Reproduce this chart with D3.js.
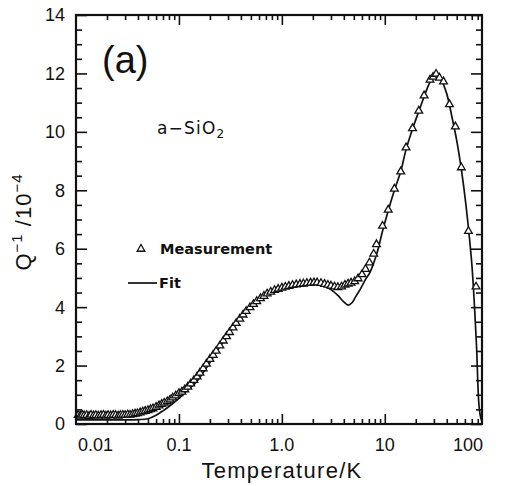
<!DOCTYPE html>
<html><head><meta charset="utf-8">
<script src="https://cdn.jsdelivr.net/npm/d3@7"></script>
<style>body{margin:0;background:#fff} svg{display:block}</style>
</head><body><svg id="c" width="507" height="486"></svg>
<script>
// Measurement (temperature in K, Q^-1 in units of 1e-4)
const measT = [0.0105,0.011,0.0115,0.012,0.0127,0.0134,0.014,0.0148,0.0156,0.0165,0.0175,0.0185,0.0195,0.0205,0.0217,0.023,0.0243,0.0257,0.027,0.0285,0.03,0.0318,0.0335,0.0355,0.0375,0.0395,
  0.042,0.0445,0.047,0.05,0.053,0.056,0.06,0.064,0.068,0.072,0.077,0.082,0.087,0.093,0.1,0.107,0.114,0.122,0.13,0.14,0.15,0.16,0.172,0.185,0.2,0.215,0.23,0.25,0.27,0.29,0.31,0.335,0.36,0.39,0.42,0.45,0.49,0.53,0.57,0.62,0.67,0.72,0.78,0.85,0.92,
  1.0,1.08,1.17,1.27,1.38,1.5,1.62,1.75,1.9,2.05,2.2,2.4,2.6,2.8,3.0,3.25,3.5,3.8,4.1,4.4,4.7,5.1,5.5,6.0,6.5,7.1,7.8,8.3,9.5,10.8,12.4,14.3,16.1,18.6,21.4,24.1,27.5,29.5,31.5,34,37.2,42.5,48.5,55.4,65,77];
const measQ = [0.30,0.28,0.31,0.29,0.30,0.27,0.31,0.29,0.30,0.28,0.30,0.31,0.28,0.30,0.29,0.31,0.30,0.28,0.30,0.31,0.30,0.32,0.31,0.33,0.35,0.36,
  0.39,0.42,0.44,0.47,0.50,0.53,0.58,0.63,0.68,0.72,0.77,0.83,0.90,0.97,1.05,1.10,1.18,1.27,1.38,1.50,1.62,1.75,1.90,2.06,2.22,2.36,2.50,2.68,2.85,3.00,3.14,3.30,3.45,3.60,3.74,3.86,3.99,4.10,4.20,4.30,4.38,4.46,4.52,4.58,4.62,
  4.66,4.69,4.72,4.75,4.77,4.79,4.80,4.82,4.83,4.84,4.84,4.82,4.79,4.76,4.73,4.70,4.68,4.70,4.76,4.80,4.83,4.88,4.98,5.12,5.30,5.52,5.82,6.15,6.78,7.33,8.05,8.64,9.46,10.12,10.72,11.24,11.78,11.88,11.98,11.85,11.72,10.94,10.18,8.78,6.60,4.70];

// Fit curve
const fitT = [0.0101,0.02,0.03,0.04,0.05,0.06,0.07,0.08,0.1,0.12,0.14,0.16,0.2,0.25,0.3,0.35,0.4,0.5,0.6,0.8,1.0,1.5,2.0,2.5,3.0,3.5,4.0,4.4,4.8,5.2,5.75,6.5,7.2,8.4,9.5,10.8,12.4,14.3,16.1,18.6,21.4,24.1,27.5,31.5,35,40,45,50,55,60,65,70,72.5,75,78,82,85,87.5];
const fitQ = [0.14,0.14,0.14,0.15,0.18,0.30,0.45,0.60,0.88,1.15,1.35,1.60,2.10,2.65,3.05,3.40,3.70,4.05,4.30,4.55,4.68,4.80,4.82,4.75,4.60,4.40,4.18,4.07,4.15,4.35,4.60,4.95,5.20,5.85,6.60,7.30,8.00,8.65,9.40,10.10,10.70,11.20,11.70,11.93,11.80,11.30,10.50,9.70,8.80,7.80,6.70,5.50,4.70,3.80,2.60,0.70,0.25,0.10];

const xLabelValues = [0.01,0.1,1,10,100];
const xLabelText = ["0.01","0.1","1.0","10","100"];
const xMajor = [0.1,1,10];
const xMinor = [0.02,0.03,0.04,0.05,0.06,0.07,0.08,0.09,0.2,0.3,0.4,0.5,0.6,0.7,0.8,0.9,2,3,4,5,6,7,8,9,20,30,40,50,60,70,80];
const yMajor = [0,2,4,6,8,10,12,14];
const yMinor = [0.5,1,1.5,2.5,3,3.5,4.5,5,5.5,6.5,7,7.5,8.5,9,9.5,10.5,11,11.5,12.5,13,13.5];

const L = 76, R = 482, T = 15, B = 424;
const x = d3.scaleLog().domain([0.01, 88]).range([L, R]);
const y = d3.scaleLinear().domain([0, 14]).range([B, T]);
const svg = d3.select("#c");
const FONT = "'Liberation Sans', Arial, sans-serif";

// fit line
const fitData = fitT.map((t,i)=>[t, fitQ[i]]);
svg.append("path").datum(fitData)
  .attr("fill","none").attr("stroke","#111").attr("stroke-width",1.7)
  .attr("d", d3.line().x(d=>x(d[0])).y(d=>y(d[1])).curve(d3.curveCatmullRom));

// measurement triangles
const tri = d3.symbol().type(d3.symbolTriangle).size(26);
svg.append("g").selectAll("path").data(measT.map((t,i)=>[t, measQ[i]])).join("path")
  .attr("d", tri).attr("transform", d=>`translate(${x(d[0])},${y(d[1])})`)
  .attr("fill","#fff").attr("stroke","#111").attr("stroke-width",1.3);

// axes with inward ticks
function styleAxis(g){ g.selectAll(".domain").remove(); g.selectAll("line").attr("stroke","#111").attr("stroke-width",1.6); g.selectAll("text").remove(); }
svg.append("g").attr("transform",`translate(0,${B})`).call(d3.axisBottom(x).tickValues(xMajor).tickSize(-10)).call(styleAxis);
svg.append("g").attr("transform",`translate(0,${B})`).call(d3.axisBottom(x).tickValues(xMinor).tickSize(-5)).call(styleAxis);
svg.append("g").attr("transform",`translate(0,${T})`).call(d3.axisTop(x).tickValues(xMajor).tickSize(-10)).call(styleAxis);
svg.append("g").attr("transform",`translate(0,${T})`).call(d3.axisTop(x).tickValues(xMinor).tickSize(-5)).call(styleAxis);
svg.append("g").attr("transform",`translate(${L},0)`).call(d3.axisLeft(y).tickValues(yMajor).tickSize(-11)).call(styleAxis);
svg.append("g").attr("transform",`translate(${L},0)`).call(d3.axisLeft(y).tickValues(yMinor).tickSize(-6)).call(styleAxis);
svg.append("g").attr("transform",`translate(${R},0)`).call(d3.axisRight(y).tickValues(yMajor).tickSize(-11)).call(styleAxis);
svg.append("g").attr("transform",`translate(${R},0)`).call(d3.axisRight(y).tickValues(yMinor).tickSize(-6)).call(styleAxis);

// frame
svg.append("rect").attr("x",L).attr("y",T).attr("width",R-L).attr("height",B-T)
  .attr("fill","none").attr("stroke","#111").attr("stroke-width",2.2);

// y tick labels
svg.append("g").selectAll("text").data(yMajor).join("text")
  .attr("x", L-11).attr("y", d=>y(d)).attr("dy","0.36em").attr("text-anchor","end")
  .attr("font-family",FONT).attr("font-size",18).attr("fill","#111").text(d=>d);

// x tick labels
const [d0,d1] = x.domain();
svg.append("g").selectAll("text").data(xLabelValues).join("text")
  .attr("x", (d,i)=> i===0 ? x(d0)+2 : (i===xLabelValues.length-1 ? x(d1)+1 : x(d)))
  .attr("y", B+27)
  .attr("text-anchor",(d,i)=> i===0 ? "start" : (i===xLabelValues.length-1 ? "end" : "middle"))
  .attr("font-family",FONT).attr("font-size",18).attr("fill","#111").text((d,i)=>xLabelText[i]);

// axis titles
svg.append("text").attr("x",(L+R)/2+3).attr("y",478).attr("text-anchor","middle")
  .attr("font-family",FONT).attr("font-size",22).attr("letter-spacing",1.3).attr("fill","#111").text("Temperature/K");

const yt = svg.append("text").attr("transform","translate(31,222) rotate(-90)").attr("text-anchor","middle")
  .attr("font-family",FONT).attr("font-size",22).attr("letter-spacing",1).attr("fill","#111");
yt.append("tspan").text("Q");
yt.append("tspan").attr("dy",-9).attr("font-size",15).text("−1");
yt.append("tspan").attr("dy",9).text(" /10");
yt.append("tspan").attr("dy",-9).attr("font-size",15).text("−4");

// panel label
svg.append("text").attr("x",102).attr("y",73).attr("font-family",FONT).attr("font-size",38).attr("fill","#111").text("(a)");

// material label
const ml = svg.append("text").attr("x",157).attr("y",134).attr("font-family","'DejaVu Sans', sans-serif").attr("font-size",17).attr("letter-spacing",1.2).attr("fill","#111");
ml.append("tspan").text("a−SiO");
ml.append("tspan").attr("dy",4).attr("font-size",12).text("2");

// legend
svg.append("path").attr("d", tri).attr("transform",`translate(141,249)`)
  .attr("fill","#fff").attr("stroke","#111").attr("stroke-width",1.3);
svg.append("text").attr("x",160).attr("y",254).attr("font-family","'DejaVu Sans', sans-serif").attr("font-size",14.5).attr("font-weight","bold").attr("fill","#111").text("Measurement");
svg.append("line").attr("x1",128).attr("x2",157).attr("y1",283).attr("y2",283).attr("stroke","#111").attr("stroke-width",1.7);
svg.append("text").attr("x",159).attr("y",288).attr("font-family","'DejaVu Sans', sans-serif").attr("font-size",14.5).attr("font-weight","bold").attr("fill","#111").text("Fit");
</script></body></html>
